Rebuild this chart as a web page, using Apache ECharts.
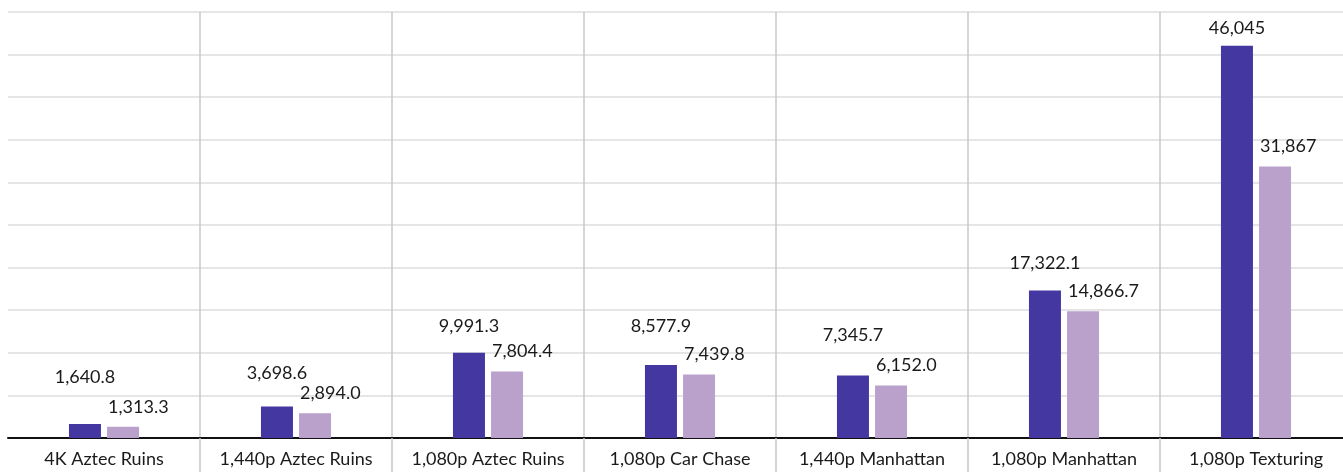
<!DOCTYPE html>
<html>
<head>
<meta charset="utf-8">
<script src="https://cdn.jsdelivr.net/npm/echarts@6/dist/echarts.min.js"></script>
<style>
    html, body { margin: 0; padding: 0; background: #fff; }
    #chart { width: 1343px; height: 472px; }
</style>
</head>
<body>
<div id="chart"></div>
<script>
// benchmark data
const categories = ['4K Aztec Ruins', '1,440p Aztec Ruins', '1,080p Aztec Ruins', '1,080p Car Chase', '1,440p Manhattan', '1,080p Manhattan', '1,080p Texturing']
const seriesA = [1640.8, 3698.6, 9991.3, 8577.9, 7345.7, 17322.1, 46045]
const seriesB = [1313.3, 2894.0, 7804.4, 7439.8, 6152.0, 14866.7, 31867]

// label lift above the dark bars (style only)
const liftA = [38, 24, 18, 30, 31, 18, 9]

function fmt (v) {
    if (v >= 20000) return v.toLocaleString('en-US', {maximumFractionDigits: 0})
    return v.toLocaleString('en-US', {minimumFractionDigits: 1, maximumFractionDigits: 1})
}

let chart = echarts.init(document.getElementById('chart'))
let font = 'Lato, "Noto Sans", sans-serif'
let skipFirst = function (i) { return i > 0 }
chart.setOption({
    animation: false,
    grid: {
        left: 8,
        top: 12,
        right: -9,
        bottom: 34,
        outerBoundsMode: 'none'
    },
    xAxis: {
        type: 'category',
        data: categories,
        axisLine: { lineStyle: { color: '#111', width: 2 } },
        axisTick: {
            show: true,
            length: 34,
            interval: skipFirst,
            lineStyle: { color: '#c8c8c8', width: 1.5 }
        },
        axisLabel: {
            interval: 0,
            margin: 12,
            color: '#1a1a1a',
            fontSize: 18,
            fontFamily: font
        },
        splitLine: {
            show: true,
            interval: skipFirst,
            lineStyle: { color: '#c8c8c8', width: 1.5 }
        }
    },
    yAxis: {
        type: 'value',
        min: 0,
        max: 50000,
        interval: 5000,
        axisLabel: { show: false },
        axisLine: { show: false },
        axisTick: { show: false },
        splitLine: { lineStyle: { color: '#dcdcdc', width: 1.5 } }
    },
    series: [
        {
            name: 'A',
            type: 'bar',
            barWidth: 32,
            barGap: '19%',
            itemStyle: { color: '#4437a1' },
            data: seriesA.map((v, i) => ({
                value: v,
                label: { distance: liftA[i] }
            })),
            label: {
                show: true,
                position: 'top',
                color: '#1a1a1a',
                fontSize: 18,
                fontFamily: font,
                formatter: p => fmt(p.value)
            }
        },
        {
            name: 'B',
            type: 'bar',
            barWidth: 32,
            itemStyle: { color: '#baa1cb' },
            data: seriesB,
            label: {
                show: true,
                position: [1, -29],
                align: 'left',
                verticalAlign: 'top',
                color: '#1a1a1a',
                fontSize: 18,
                fontFamily: font,
                formatter: p => fmt(p.value)
            }
        }
    ]
})
</script>
</body>
</html>
